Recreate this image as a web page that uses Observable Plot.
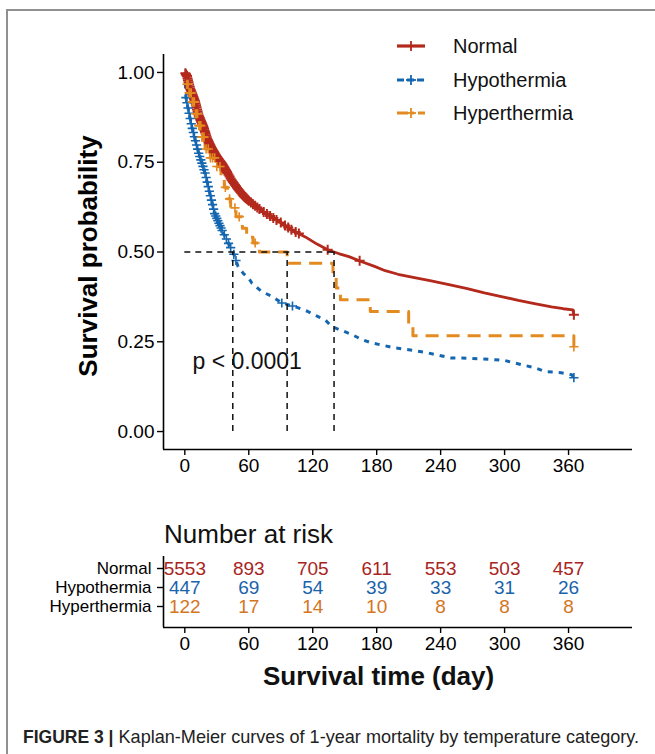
<!DOCTYPE html>
<html><head><meta charset="utf-8">
<script src="https://cdn.jsdelivr.net/npm/d3@7"></script>
<script src="https://cdn.jsdelivr.net/npm/@observablehq/plot@0.6"></script>
<style>
body{margin:0;background:#fff;font-family:"Liberation Sans",Arial,sans-serif;}
#root{position:relative;width:655px;height:754px;overflow:hidden;background:#fff;}
.frame{position:absolute;left:6px;top:9px;width:700px;height:800px;border-left:2px solid #909090;border-top:2px solid #909090;}
.abs{position:absolute;white-space:nowrap;line-height:1;}
.leg{position:absolute;left:396px;height:24px;display:flex;align-items:center;font-size:20px;color:#111;}
.leg svg{margin-right:27px;}
</style></head><body><div id="root"><div class="frame"></div></div>
<script>
// ---------- data ----------
const groups = ["Normal", "Hypothermia", "Hyperthermia"];
const lineColors = ["#B3291C", "#1466B0", "#E38A20"];
const tableColors = ["#A8251D", "#1A63AB", "#D5761F"];
const xTicks = [0, 60, 120, 180, 240, 300, 360];
const yTicks = [0, 0.25, 0.5, 0.75, 1];
const xDomain = [-20, 420];
const yDomain = [-0.05, 1.05];

// Kaplan-Meier estimates (time in days, survival)
const normalTime = [0, 2, 5, 9.5, 13, 17.5, 21, 25, 30, 35, 40, 44, 50, 56, 64, 72, 80, 91, 100, 113, 124, 135, 145, 154, 166, 178, 188, 200, 213, 230, 250, 265, 281, 297, 313, 328, 344, 355, 364, 365];
const normalSurv = [1.0, 0.99, 0.955, 0.92, 0.88, 0.848, 0.815, 0.79, 0.765, 0.745, 0.72, 0.70, 0.675, 0.653, 0.633, 0.615, 0.60, 0.58, 0.562, 0.542, 0.522, 0.505, 0.495, 0.487, 0.473, 0.46, 0.448, 0.438, 0.43, 0.42, 0.408, 0.398, 0.386, 0.376, 0.365, 0.356, 0.347, 0.342, 0.339, 0.325];

const hypoTime = [0, 1, 6.5, 13, 19, 23.5, 28, 35, 41, 45.6, 50, 55, 60, 63, 72, 82, 91, 103, 115, 125, 132, 138, 157, 166, 175, 197, 210, 228, 250, 260, 291, 300, 316, 328, 338, 353, 363, 365];
const hypoSurv = [1.0, 0.93, 0.85, 0.775, 0.72, 0.663, 0.607, 0.56, 0.524, 0.497, 0.459, 0.44, 0.427, 0.413, 0.39, 0.376, 0.358, 0.348, 0.335, 0.32, 0.31, 0.292, 0.27, 0.256, 0.247, 0.233, 0.228, 0.219, 0.205, 0.205, 0.20, 0.198, 0.186, 0.178, 0.167, 0.164, 0.158, 0.15];

const hyperTime = [0, 2, 4, 7, 10, 13, 16, 19, 24, 30, 34, 37, 40, 43, 48, 54, 58, 64, 70, 96, 139, 142, 146, 174, 210, 214, 365];
const hyperSurv = [1.0, 0.967, 0.943, 0.918, 0.885, 0.852, 0.820, 0.787, 0.762, 0.738, 0.713, 0.680, 0.648, 0.623, 0.598, 0.566, 0.541, 0.525, 0.500, 0.469, 0.436, 0.40, 0.367, 0.334, 0.30, 0.267, 0.236];

// censoring times (days)
const normalCensor = [0.5,1,1.5,2,2.5,3,3.5,4,4.5,5,5.5,6,6.5,7,7.5,8,8.5,9,9.5,10,10.5,11,11.5,12,12.5,13,13.5,14,14.5,15,15.5,16,16.5,17,17.5,18,18.5,19,19.5,20,20.5,21,21.5,22,22.5,23,23.5,24,24.5,25,25.5,26,26.5,27,27.5,28,28.5,29,29.5,30,30.5,31,31.5,32,32.5,33,33.5,34,34.5,35,35.5,36,36.5,37,37.5,38,38.5,39,39.5,40,41,42,43,44,45,46,47,48,49,50,51,52,53,54,55,56,57,58,59,60,62,64,66,68,70,74,77,80,83,86,90,94,97,100,104,107,134,164,365];
const hypoCensor = [1,2,3,4,5,6,7,8,9,10,11,12,13,14,15,16,17,18,19,20,21,22,23,24,25,26,27,28,29,30,31,32,33,34,35,37,39,41,43,46,48,91,101,365];
const hyperCensor = [2,3,4,5,6,7,8,9,10,11,12,13,14,15,16,17,18,20,22,24,26,28,30,33,38,42,47,51,66,365];

const medianTimes = [45, 96, 140];
const pLabel = "p < 0.0001";

const riskTimes = [0, 60, 120, 180, 240, 300, 360];
const riskNormal = [5553, 893, 705, 611, 553, 503, 457];
const riskHypo = [447, 69, 54, 39, 33, 31, 26];
const riskHyper = [122, 17, 14, 10, 8, 8, 8];

// ---------- build ----------
const series = [
  {name: groups[0], t: normalTime, s: normalSurv, c: normalCensor, curve: "linear", dash: null, width: 2.8, r: 5, cw: 2},
  {name: groups[1], t: hypoTime, s: hypoSurv, c: hypoCensor, curve: "linear", dash: "5,6", width: 3, r: 4.6, cw: 1.6},
  {name: groups[2], t: hyperTime, s: hyperSurv, c: hyperCensor, curve: "step-after", dash: "13,8", width: 3, r: 4.6, cw: 1.6}
];
function survAt(ser, time) {
  const T = ser.t, S = ser.s;
  let i = d3.bisectRight(T, time) - 1;
  if (i < 0) return S[0];
  if (i >= T.length - 1) return S[S.length - 1];
  if (ser.curve === "step-after") return S[i];
  const f = (time - T[i]) / (T[i + 1] - T[i]);
  return S[i] + f * (S[i + 1] - S[i]);
}
const plusSymbol = {
  draw(ctx, size) {
    const r = Math.sqrt(size / Math.PI);
    ctx.moveTo(-r, 0); ctx.lineTo(r, 0);
    ctx.moveTo(0, -r); ctx.lineTo(0, r);
  }
};

const font = "'Liberation Sans', Arial, sans-serif";
const marks = [];
series.forEach((ser, k) => {
  const pts = ser.t.map((t, i) => ({t, s: ser.s[i]}));
  marks.push(Plot.line(pts, {x: "t", y: "s", stroke: lineColors[k], strokeWidth: ser.width,
    strokeDasharray: ser.dash, curve: ser.curve, strokeLinecap: "butt"}));
});
series.forEach((ser, k) => {
  const cp = ser.c.map(t => ({t, s: survAt(ser, t)}));
  marks.push(Plot.dot(cp, {x: "t", y: "s", symbol: plusSymbol, r: ser.r, fill: "none",
    stroke: lineColors[k], strokeWidth: ser.cw}));
});

const main = Plot.plot({
  width: 655, height: 480,
  marginLeft: 163, marginRight: 23, marginTop: 54, marginBottom: 31,
  style: {fontFamily: font, fontSize: "19px", color: "#000", background: "transparent", overflow: "visible"},
  x: {domain: xDomain},
  y: {domain: yDomain},
  marks: [
    ...marks,
    Plot.ruleY([0.5], {x1: 0, x2: d3.max(medianTimes), stroke: "#111", strokeWidth: 1.5, strokeDasharray: "6,5"}),
    Plot.ruleX(medianTimes, {y1: 0, y2: 0.5, stroke: "#111", strokeWidth: 1.5, strokeDasharray: "6,5"}),
    Plot.text([pLabel], {text: d => d, frameAnchor: "bottom-left", textAnchor: "start", lineAnchor: "middle",
      dx: 29, dy: -88, fontSize: 23, fill: "#111"}),
    Plot.text(["Survival probability"], {text: d => d, frameAnchor: "left", rotate: -90, dx: -75, dy: 4,
      fontSize: 26, fontWeight: "bold", fill: "#000", textAnchor: "middle", lineAnchor: "middle"}),
    Plot.ruleX([xDomain[0]], {stroke: "#000", strokeWidth: 1.6}),
    Plot.ruleY([yDomain[0]], {stroke: "#000", strokeWidth: 1.6}),
    Plot.axisX({ticks: xTicks, tickSize: 6, tickPadding: 3, label: null, fontSize: 19, strokeWidth: 1.4}),
    Plot.axisY({ticks: yTicks, tickFormat: d3.format(".2f"), tickSize: 6, tickPadding: 3, label: null, fontSize: 19, strokeWidth: 1.4})
  ]
});
main.style.position = "absolute"; main.style.left = "0px"; main.style.top = "0px";

const riskRows = [];
[riskNormal, riskHypo, riskHyper].forEach((arr, k) => arr.forEach((n, i) => riskRows.push({group: groups[k], t: riskTimes[i], n, k})));

const table = Plot.plot({
  width: 655, height: 150,
  marginLeft: 163, marginRight: 23, marginTop: 8, marginBottom: 71,
  style: {fontFamily: font, fontSize: "19px", color: "#000", background: "transparent", overflow: "visible"},
  x: {domain: xDomain},
  y: {type: "point", domain: groups, padding: 0, insetTop: 12, insetBottom: 21},
  marks: [
    ...groups.map((g, k) => Plot.text(riskRows.filter(d => d.k === k), {x: "t", y: "group", text: d => String(d.n),
      fill: tableColors[k], fontSize: 19})),
    Plot.ruleX([xDomain[0]], {stroke: "#000", strokeWidth: 1.6}),
    Plot.ruleY([groups[2]], {dy: 21, stroke: "#000", strokeWidth: 1.6}),
    Plot.axisX({ticks: xTicks, tickSize: 6, tickPadding: 3, label: null, fontSize: 19, strokeWidth: 1.4}),
    Plot.axisY({tickSize: 6, tickPadding: 6, label: null, fontSize: 17, strokeWidth: 1.4})
  ]
});
table.style.position = "absolute"; table.style.left = "0px"; table.style.top = "548px";

const root = document.getElementById("root");
root.appendChild(main);
root.appendChild(table);

// legend
const legendDash = [null, "7,3", "11,4,2,4"];
groups.forEach((g, k) => {
  const row = document.createElement("div");
  row.className = "leg";
  row.style.top = [34, 68, 101][k] + "px";
  row.innerHTML = `<svg width="30" height="14" style="overflow:visible">
    <line x1="1" x2="29" y1="7" y2="7" stroke="${lineColors[k]}" stroke-width="3.2" ${legendDash[k] ? `stroke-dasharray="${legendDash[k]}"` : ""}/>
    <line x1="15" x2="15" y1="2" y2="12" stroke="${lineColors[k]}" stroke-width="1.8"/>
    <line x1="10" x2="20" y1="7" y2="7" stroke="${lineColors[k]}" stroke-width="1.8"/></svg><span>${g}</span>`;
  root.appendChild(row);
});

function addText(txt, left, top, css) {
  const d = document.createElement("div");
  d.className = "abs";
  d.style.left = left + "px"; d.style.top = top + "px";
  d.style.cssText += css;
  d.innerHTML = txt;
  root.appendChild(d);
  return d;
}
addText("Number at risk", 164, 521, "font-size:26px;color:#111;");
addText("Survival time (day)", 263, 663, "font-size:26px;font-weight:bold;color:#111;");
addText("<b style='font-size:17.5px'>FIGURE 3 |</b> Kaplan-Meier curves of 1-year mortality by temperature category.", 23, 728, "font-size:18.1px;color:#222;");
</script></body></html>
